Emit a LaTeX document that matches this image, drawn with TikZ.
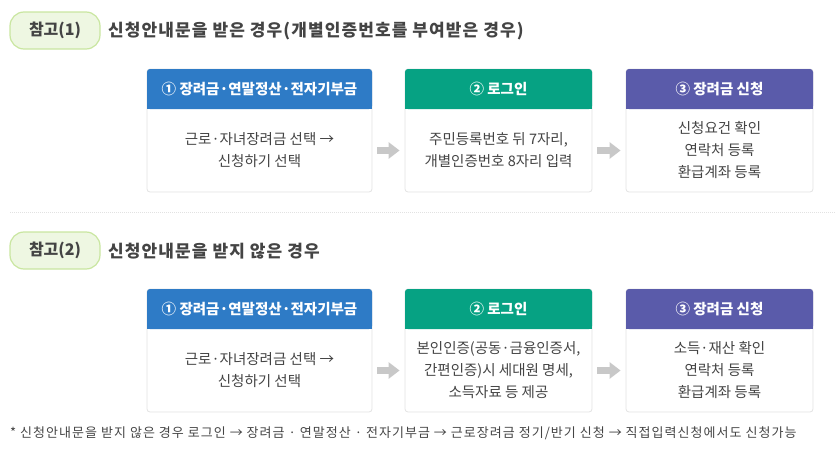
\documentclass[tikz,border=0pt]{standalone}
\usepackage{fontspec}
\setmainfont{Noto Sans CJK KR}
\newfontfamily\titlefont{Noto Sans CJK KR}[LetterSpace=6.5]
\newfontfamily\notefont{Noto Sans CJK KR}[LetterSpace=8]
\usetikzlibrary{arrows.meta}
\definecolor{cblue}{HTML}{2E7BC6}
\definecolor{cgreen}{HTML}{06A283}
\definecolor{cpurple}{HTML}{5A5BAA}
\definecolor{pillfill}{HTML}{EEF7E2}
\definecolor{pillline}{HTML}{C9E6A0}
\definecolor{boxline}{HTML}{E2E2E2}
\definecolor{txt}{HTML}{444444}
\definecolor{arrowc}{HTML}{C8C8C8}
\tikzset{
  pill/.style={draw=pillline, line width=1.2pt, fill=pillfill, rounded corners=14pt,
    minimum width=90pt, minimum height=37pt, inner sep=0pt,
    font=\fontsize{16}{18}\selectfont\bfseries, text=txt},
  title/.style={anchor=west, inner sep=0pt, font=\titlefont\fontsize{17}{19}\selectfont\bfseries, text=txt},
  card/.style={draw=boxline, line width=0.8pt, fill=white, rounded corners=3pt,
    minimum height=123pt, inner sep=0pt},
  head/.style={rounded corners=3pt, minimum height=40pt, inner sep=0pt,
    text=white, font=\fontsize{14.5}{16}\selectfont\bfseries},
  body/.style={align=center, inner sep=0pt, text=txt,
    font=\fontsize{14.5}{22}\selectfont},
  flow/.style={arrowc, line width=7pt, shorten <=5pt, shorten >=5pt,
    -{Triangle[length=11pt,width=16pt]}},
  sep/.style={draw=boxline, line width=1pt, densely dotted},
  note/.style={anchor=west, inner sep=0pt, text=txt, font=\notefont\fontsize{13}{15}\selectfont}
}
\begin{document}
\begin{tikzpicture}[x=1pt,y=-1pt]
\useasboundingbox (0,0) rectangle (836,455);

% ---------- section 1 ----------
\node[pill] (p1) at (55,30.5) {참고(1)};
\node[title] (ti1) at (108,31) {신청안내문을 받은 경우(개별인증번호를 부여받은 경우)};

\node[card, minimum width=225pt] (a1) at (259.5,130.5) {};
\node[card, minimum width=187pt] (a2) at (498.5,130.5) {};
\node[card, minimum width=187pt] (a3) at (719.5,130.5) {};

\node[head, fill=cblue, minimum width=225pt] (ha1) at (259.5,89) {};
\fill[cblue] (ha1.west) rectangle (ha1.south east);
\node[head, fill=cgreen, minimum width=187pt] (ha2) at (498.5,89) {};
\fill[cgreen] (ha2.west) rectangle (ha2.south east);
\node[head, fill=cpurple, minimum width=187pt] (ha3) at (719.5,89) {};
\fill[cpurple] (ha3.west) rectangle (ha3.south east);
\node[head] (la1) at (ha1) {① 장려금·연말정산·전자기부금};
\node[head] (la2) at (ha2) {② 로그인};
\node[head] (la3) at (ha3) {③ 장려금 신청};

\node[body] (ba1) at (259.5,150.5) {근로·자녀장려금 선택 →\\신청하기 선택};
\node[body] (ba2) at (498.5,150.5) {주민등록번호 뒤 7자리,\\개별인증번호 8자리 입력};
\node[body] (ba3) at (719.5,150.5) {신청요건 확인\\연락처 등록\\환급계좌 등록};

\draw[flow] (a1.east |- ba1) -- (a2.west |- ba1);
\draw[flow] (a2.east |- ba1) -- (a3.west |- ba1);

% separator
\coordinate (s1) at (10,212.5);
\coordinate (s2) at (836,212.5);
\draw[sep] (s1) -- (s2);

% ---------- section 2 ----------
\node[pill] (p2) at (55,250.5) {참고(2)};
\node[title] (ti2) at (108,251) {신청안내문을 받지 않은 경우};

\node[card, minimum width=225pt] (c1) at (259.5,350.5) {};
\node[card, minimum width=187pt] (c2) at (498.5,350.5) {};
\node[card, minimum width=187pt] (c3) at (719.5,350.5) {};

\node[head, fill=cblue, minimum width=225pt] (hc1) at (259.5,309) {};
\fill[cblue] (hc1.west) rectangle (hc1.south east);
\node[head, fill=cgreen, minimum width=187pt] (hc2) at (498.5,309) {};
\fill[cgreen] (hc2.west) rectangle (hc2.south east);
\node[head, fill=cpurple, minimum width=187pt] (hc3) at (719.5,309) {};
\fill[cpurple] (hc3.west) rectangle (hc3.south east);
\node[head] (lc1) at (hc1) {① 장려금·연말정산·전자기부금};
\node[head] (lc2) at (hc2) {② 로그인};
\node[head] (lc3) at (hc3) {③ 장려금 신청};

\node[body] (bc1) at (259.5,370.5) {근로·자녀장려금 선택 →\\신청하기 선택};
\node[body] (bc2) at (498.5,370.5) {본인인증(공동·금융인증서,\\간편인증)시 세대원 명세,\\소득자료 등 제공};
\node[body] (bc3) at (719.5,370.5) {소득·재산 확인\\연락처 등록\\환급계좌 등록};

\draw[flow] (c1.east |- bc1) -- (c2.west |- bc1);
\draw[flow] (c2.east |- bc1) -- (c3.west |- bc1);

% footnote
\node[note] (fn) at (10,433) {* 신청안내문을 받지 않은 경우 로그인 → 장려금 · 연말정산 · 전자기부금 → 근로장려금 정기/반기 신청 → 직접입력신청에서도 신청가능};
\end{tikzpicture}
\end{document}
